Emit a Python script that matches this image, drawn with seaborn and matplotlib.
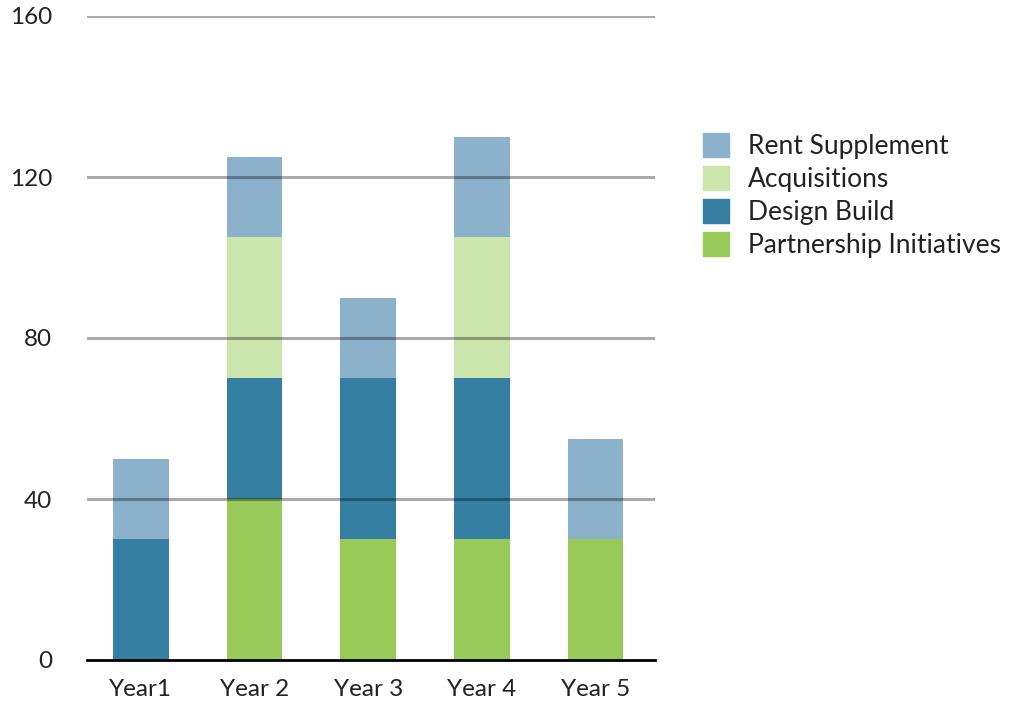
import matplotlib
matplotlib.use("Agg")
import matplotlib.pyplot as plt
import seaborn as sns
import pandas as pd
import numpy as np
from matplotlib.patches import Patch

years = ["Year1", "Year 2", "Year 3", "Year 4", "Year 5"]
partnership = [0, 40, 30, 30, 30]
design_build = [30, 30, 40, 40, 0]
acquisitions = [0, 35, 0, 35, 0]
rent_supplement = [20, 20, 20, 25, 25]

series_names = ["Partnership Initiatives", "Design Build", "Acquisitions", "Rent Supplement"]
series_vals = [partnership, design_build, acquisitions, rent_supplement]
colors = {"Partnership Initiatives": "#97ca58", "Design Build": "#357fa3",
          "Acquisitions": "#cbe5ad", "Rent Supplement": "#8cb2cb"}

sns.set_theme(style="white")
plt.rcParams['font.family'] = ['Lato', 'DejaVu Sans']

fig = plt.figure(figsize=(10.25, 7.09), dpi=100)
ax = fig.add_axes([87/1025, 49/709, 568/1025, 644/709])

bottom = np.zeros(len(years))
for name, vals in zip(series_names, series_vals):
    df = pd.DataFrame({"year": years, "value": vals})
    sns.barplot(data=df, x="year", y="value", color=colors[name], bottom=bottom,
                width=0.49, saturation=1, ax=ax, linewidth=0, zorder=2)
    bottom = bottom + np.array(vals)

ax.set_ylim(0, 160)
ax.set_xlim(-0.475, len(years) - 0.475)
ax.set_yticks([0, 40, 80, 120, 160])
ax.set_xlabel("")
ax.set_ylabel("")
for y in [40, 80, 120, 160]:
    ax.axhline(y, color="black", alpha=0.33, linewidth=2.2, zorder=5)
for s in ["left", "right", "top"]:
    ax.spines[s].set_visible(False)
ax.spines["bottom"].set_color("black")
ax.spines["bottom"].set_linewidth(2)
ax.spines["bottom"].set_zorder(6)
ax.tick_params(axis="y", length=0, pad=25, labelsize=17.5, colors="#222222")
ax.tick_params(axis="x", length=0, pad=14, labelsize=17.5, colors="#222222")

handles = [Patch(color=colors[n]) for n in ["Rent Supplement", "Acquisitions", "Design Build", "Partnership Initiatives"]]
labels = ["Rent Supplement", "Acquisitions", "Design Build", "Partnership Initiatives"]
fig.legend(handles, labels, loc="upper left", bbox_to_anchor=(703/1025, 1 - 133/709),
           frameon=False, fontsize=19, handlelength=1.0, handleheight=1.0,
           handletextpad=0.7, labelspacing=0.27, borderpad=0, borderaxespad=0,
           labelcolor="#222222")

fig.savefig("out.png", dpi=100)
